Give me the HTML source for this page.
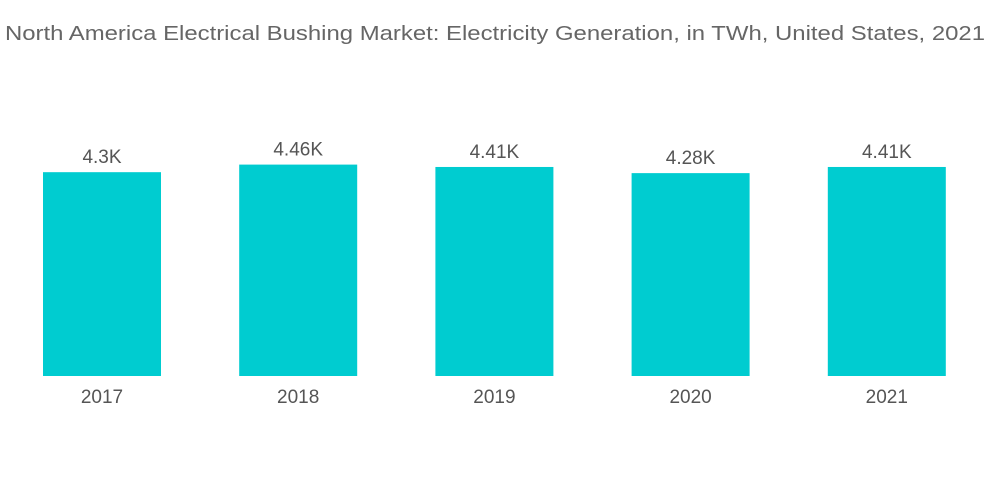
<!DOCTYPE html>
<html><head><meta charset="utf-8"><style>
body{margin:0;background:#fff;}
svg{display:block;font-family:"Liberation Sans",sans-serif;}
</style></head><body>
<svg width="1000" height="504" viewBox="0 0 1000 504">
<text x="5" y="40" font-size="20" fill="#666" textLength="980" lengthAdjust="spacingAndGlyphs">North America Electrical Bushing Market: Electricity Generation, in TWh, United States, 2021</text>
<g id="bars"></g>
</svg>
<script>
const categories = ["2017","2018","2019","2020","2021"];
const values = [4.30, 4.46, 4.41, 4.28, 4.41];
const valueLabels = ["4.3K","4.46K","4.41K","4.28K","4.41K"];
const baseY = 376, pxPerUnit = 47.4;
const x0 = 43, step = 196.2, bw = 118;
function xPos(i){return x0 + i*step;}
function yPos(v){return baseY - v*pxPerUnit;}
const g = document.getElementById('bars');
const NS = 'http://www.w3.org/2000/svg';
categories.forEach((c,i)=>{
  const r = document.createElementNS(NS,'rect');
  r.setAttribute('x', xPos(i));
  r.setAttribute('y', yPos(values[i]));
  r.setAttribute('width', bw);
  r.setAttribute('height', baseY - yPos(values[i]));
  r.setAttribute('fill', '#00CCD0');
  
  
  g.appendChild(r);
  const t = document.createElementNS(NS,'text');
  t.setAttribute('x', xPos(i)+bw/2);
  t.setAttribute('y', yPos(values[i]) - 9);
  t.setAttribute('text-anchor','middle');
  t.setAttribute('font-size','19');
  t.setAttribute('fill','#555');
  t.textContent = valueLabels[i];
  
  
  g.appendChild(t);
  const l = document.createElementNS(NS,'text');
  l.setAttribute('x', xPos(i)+bw/2);
  l.setAttribute('y', 403);
  l.setAttribute('text-anchor','middle');
  l.setAttribute('font-size','19');
  l.setAttribute('fill','#555');
  l.textContent = c;
  
  
  g.appendChild(l);
});
</script>
</body></html>
